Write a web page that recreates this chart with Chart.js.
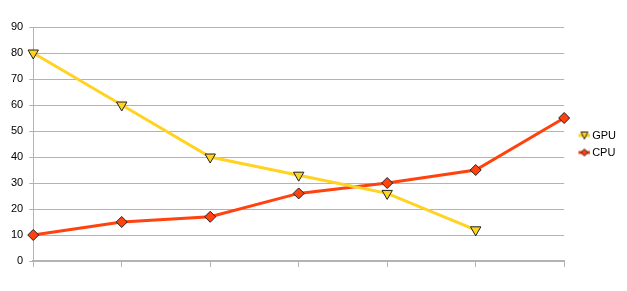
<!DOCTYPE html>
<html>
<head>
<meta charset="utf-8">
<script src="https://cdn.jsdelivr.net/npm/chart.js@4/dist/chart.umd.min.js"></script>
<style>
  body { margin: 0; background: #fff; }
  #wrap { width: 627px; height: 291px; }
</style>
</head>
<body>
<div id="wrap"><canvas id="grafico"></canvas></div>
<script>
const categorias = ["1", "2", "3", "4", "5", "6", "7"];
const valoresGPU = [80, 60, 40, 33, 26, 12, null];
const valoresCPU = [10, 15, 17, 26, 30, 35, 55];
const ticksY = [0, 10, 20, 30, 40, 50, 60, 70, 80, 90];

const corGPU = "#ffd320";
const corCPU = "#ff420e";

// icone da legenda: linha curta + marcador pequeno (desenhado na metade direita)
function iconeLegenda(cor, tipo) {
  const c = document.createElement("canvas");
  c.width = 24;
  c.height = 10;
  const g = c.getContext("2d");
  g.strokeStyle = cor;
  g.lineWidth = 3;
  g.beginPath();
  g.moveTo(12, 5);
  g.lineTo(24, 5);
  g.stroke();
  g.fillStyle = cor;
  g.strokeStyle = "#222";
  g.lineWidth = 1;
  g.beginPath();
  if (tipo === "tri") {
    g.moveTo(14.5, 1.5);
    g.lineTo(21.5, 1.5);
    g.lineTo(18, 8.5);
  } else {
    g.moveTo(18, 1.5);
    g.lineTo(21.5, 5);
    g.lineTo(18, 8.5);
    g.lineTo(14.5, 5);
  }
  g.closePath();
  g.fill();
  g.stroke();
  return c;
}

const icones = [iconeLegenda(corGPU, "tri"), iconeLegenda(corCPU, "dia")];

// sobe a legenda um pouco
const ajusteLegenda = {
  id: "ajusteLegenda",
  afterLayout(chart) {
    chart.legend.top -= 3;
    chart.legend.bottom -= 3;
  },
};

new Chart(document.getElementById("grafico").getContext("2d"), {
  type: "line",
  plugins: [ajusteLegenda],
  data: {
    labels: categorias,
    datasets: [
      {
        label: "GPU",
        data: valoresGPU,
        borderColor: corGPU,
        backgroundColor: corGPU,
        borderWidth: 3,
        pointStyle: "triangle",
        rotation: 180,
        pointRadius: 6,
        pointBorderColor: "#222",
        pointBorderWidth: 1,
        pointBackgroundColor: corGPU,
        tension: 0,
      },
      {
        label: "CPU",
        data: valoresCPU,
        borderColor: corCPU,
        backgroundColor: corCPU,
        borderWidth: 3,
        pointStyle: "rectRot",
        pointRadius: 5.5,
        pointBorderColor: "#222",
        pointBorderWidth: 1,
        pointBackgroundColor: corCPU,
        tension: 0,
      },
    ],
  },
  options: {
    responsive: true,
    maintainAspectRatio: false,
    animation: false,
    layout: { padding: { top: 27, bottom: 24, left: 5, right: 1 } },
    scales: {
      x: {
        offset: false,
        grid: {
          drawOnChartArea: false,
          color: "#b3b3b3",
          tickLength: 6,
        },
        border: { color: "#b3b3b3", width: 2 },
        ticks: { display: false },
      },
      y: {
        min: 0,
        max: 90,
        afterBuildTicks: (axis) => {
          axis.ticks = ticksY.map((v) => ({ value: v }));
        },
        grid: { color: "#b3b3b3", tickLength: 4 },
        border: { color: "#b3b3b3" },
        ticks: {
          color: "#000",
          padding: 6,
          font: { family: "Liberation Sans", size: 11 },
        },
      },
    },
    plugins: {
      legend: {
        position: "right",
        labels: {
          usePointStyle: true,
          pointStyleWidth: 16.5,
          color: "#000",
          font: { family: "Liberation Sans", size: 11 },
          padding: 6,
          generateLabels: (chart) =>
            chart.data.datasets.map((ds, i) => ({
              text: ds.label,
              pointStyle: icones[i],
              fontColor: "#000",
              datasetIndex: i,
              lineWidth: 0,
            })),
        },
      },
      tooltip: { enabled: false },
    },
  },
});
</script>
</body>
</html>
